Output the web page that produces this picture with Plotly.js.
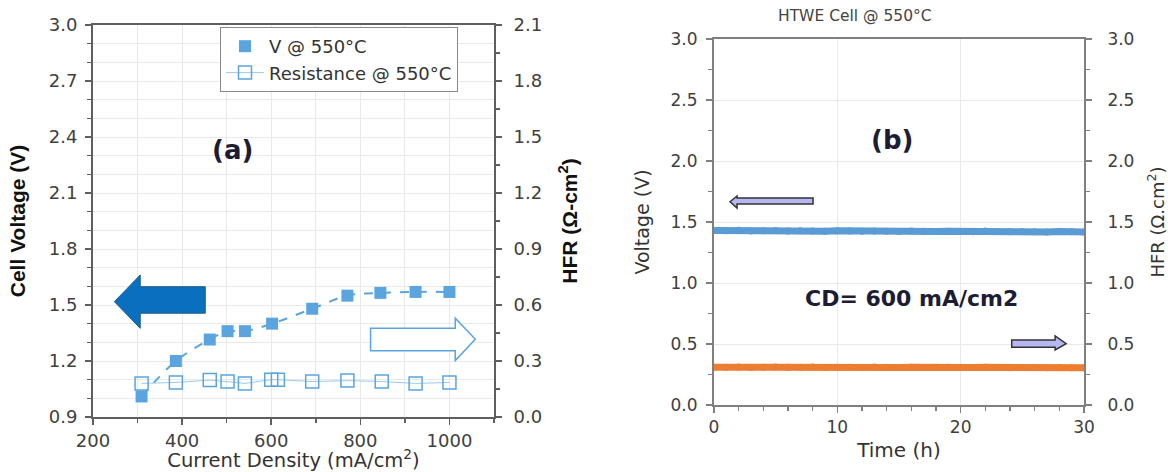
<!DOCTYPE html>
<html>
<head>
<meta charset="utf-8">
<script src="https://cdn.plot.ly/plotly-3.0.1.min.js"></script>
<style>html,body{margin:0;padding:0;background:#fff;}#chart{width:1168px;height:472px;}</style>
</head>
<body>
<div id="chart"></div>
<script>
// ---- Panel (a) data ----
const cdVoltage = [309, 386, 462, 502, 541, 602, 692, 771, 845, 924, 1000];
const cellVoltage = [1.01, 1.20, 1.315, 1.36, 1.36, 1.40, 1.48, 1.55, 1.565, 1.57, 1.57];
const cdHFR = [309, 386, 462, 502, 541, 600, 615, 692, 771, 848, 924, 1000];
const hfrA = [0.18, 0.185, 0.198, 0.19, 0.18, 0.20, 0.20, 0.19, 0.195, 0.19, 0.18, 0.185];

// ---- Panel (b) data ----
const timeH = [0,1,2,3,4,5,6,7,8,9,10,11,12,13,14,15,16,17,18,19,20,21,22,23,24,25,26,27,28,29,30];
const voltageB = [1.430,1.428,1.432,1.427,1.429,1.431,1.426,1.428,1.427,1.425,1.428,1.426,1.424,1.427,1.425,1.423,1.426,1.424,1.422,1.425,1.423,1.421,1.426,1.422,1.420,1.423,1.421,1.419,1.422,1.420,1.419];
const hfrB = [0.310,0.309,0.311,0.308,0.310,0.312,0.309,0.310,0.311,0.308,0.309,0.310,0.308,0.311,0.309,0.308,0.310,0.307,0.309,0.310,0.308,0.307,0.309,0.308,0.306,0.308,0.307,0.305,0.307,0.306,0.305];

const W = 1168, H = 472;
const px = v => v / W;
const py = v => 1 - v / H;

const blueA = '#5AA5E0';
const tickFontA = {family: 'DejaVu Sans', size: 18, color: '#404040'};
const tickFontB = {family: 'DejaVu Sans', size: 17, color: '#404040'};
const boldTitle = {family: 'Liberation Sans', size: 21, color: '#111', weight: 'bold'};
const textDark = '#1c1c34';

const traces = [
  {x: cdVoltage, y: cellVoltage, xaxis: 'x', yaxis: 'y', mode: 'lines', showlegend: false,
   line: {color: blueA, width: 2, dash: 'dash', shape: 'spline', smoothing: 1}, hoverinfo: 'skip'},
  {x: cdVoltage, y: cellVoltage, xaxis: 'x', yaxis: 'y', mode: 'markers', name: 'V @ 550°C',
   marker: {symbol: 'square', size: 12, color: blueA}},
  {x: cdHFR, y: hfrA, xaxis: 'x', yaxis: 'y2', mode: 'lines+markers', name: 'Resistance @ 550°C',
   line: {color: '#9CC9EE', width: 1},
   marker: {symbol: 'square-open', size: 13, color: blueA, line: {width: 1.5, color: blueA}}},
  {x: timeH, y: voltageB, xaxis: 'x2', yaxis: 'y3', mode: 'lines+markers', showlegend: false,
   line: {color: '#5B9BD5', width: 7}, marker: {size: 7, color: '#5B9BD5'}},
  {x: timeH, y: hfrB, xaxis: 'x2', yaxis: 'y4', mode: 'lines+markers', showlegend: false,
   line: {color: '#ED7D31', width: 7}, marker: {size: 7, color: '#ED7D31'}}
];

const gridC = '#e9e9e9';
const lineA = '#5f5f5f';
const lineB = '#808080';

const layout = {
  width: W, height: H,
  margin: {l: 0, r: 0, t: 0, b: 0},
  paper_bgcolor: '#fff', plot_bgcolor: '#fff',
  showlegend: true,
  legend: {x: px(220), y: py(27), xanchor: 'left', yanchor: 'top',
    bgcolor: '#fff', bordercolor: '#8a8a8a', borderwidth: 1, itemwidth: 38,
    font: {family: 'DejaVu Sans', size: 18, color: '#333'}, tracegroupgap: 0},
  xaxis: {domain: [px(93), px(494)], range: [200, 1100], anchor: 'y',
    tick0: 200, dtick: 200, ticks: 'outside', ticklen: 6, tickwidth: 1.5, tickcolor: lineA,
    showline: true, linecolor: lineA, linewidth: 2, mirror: true,
    showgrid: true, gridcolor: gridC, zeroline: false,
    minor: {dtick: 100, tick0: 200, ticks: 'outside', ticklen: 4, tickcolor: lineA, showgrid: true, gridcolor: gridC},
    tickfont: tickFontA,
    title: {text: 'Current Density (mA/cm<sup>2</sup>)', font: {family: 'DejaVu Sans', size: 19.5, color: '#333'}, standoff: 9}},
  yaxis: {domain: [py(417), py(25)], range: [0.9, 3.0], anchor: 'x',
    tick0: 0.9, dtick: 0.3, tickformat: '.1f', ticks: 'outside', ticklen: 6, tickwidth: 1.5, tickcolor: lineA,
    ticklabelstandoff: 4,
    showline: true, linecolor: lineA, linewidth: 2, showgrid: true, gridcolor: gridC, zeroline: false,
    minor: {dtick: 0.1, tick0: 0.9, ticks: 'outside', ticklen: 4, tickcolor: lineA, showgrid: true, gridcolor: gridC},
    tickfont: tickFontA,
    title: {text: 'Cell Voltage (V)', font: boldTitle, standoff: 17}},
  yaxis2: {overlaying: 'y', side: 'right', anchor: 'x', range: [0, 2.1],
    tick0: 0, dtick: 0.3, tickformat: '.1f', ticks: 'outside', ticklen: 6, tickwidth: 1.5, tickcolor: lineA,
    ticklabelstandoff: 8,
    showline: true, linecolor: lineA, linewidth: 2, showgrid: false, zeroline: false,
    minor: {dtick: 0.15, tick0: 0, ticks: 'outside', ticklen: 4, tickcolor: lineA},
    tickfont: tickFontA,
    title: {text: 'HFR (Ω-cm<sup>2</sup>)', font: boldTitle, standoff: 21}},
  xaxis2: {domain: [px(714), px(1084)], range: [0, 30], anchor: 'y3',
    tick0: 0, dtick: 10, ticks: 'outside', ticklen: 6, tickwidth: 1.5, tickcolor: lineB,
    showline: true, linecolor: lineB, linewidth: 2, mirror: true,
    showgrid: true, gridcolor: gridC, zeroline: false,
    minor: {dtick: 2, tick0: 0, ticks: 'outside', ticklen: 4, tickcolor: lineB},
    tickfont: tickFontB,
    title: {text: 'Time (h)', font: {family: 'DejaVu Sans', size: 20, color: '#333'}, standoff: 7}},
  yaxis3: {domain: [py(405), py(39)], range: [0, 3.0], anchor: 'x2',
    tick0: 0, dtick: 0.5, tickformat: '.1f', ticks: 'outside', ticklen: 6, tickwidth: 1.5, tickcolor: lineB,
    ticklabelstandoff: 5,
    showline: true, linecolor: lineB, linewidth: 2, showgrid: true, gridcolor: gridC, zeroline: false,
    minor: {dtick: 0.25, tick0: 0, ticks: 'outside', ticklen: 4, tickcolor: lineB},
    tickfont: tickFontB,
    title: {text: 'Voltage (V)', font: {family: 'DejaVu Sans', size: 19, color: '#333'}, standoff: 16}},
  yaxis4: {overlaying: 'y3', side: 'right', anchor: 'x2', range: [0, 3.0],
    tick0: 0, dtick: 0.5, tickformat: '.1f', ticks: 'outside', ticklen: 6, tickwidth: 1.5, tickcolor: lineB,
    ticklabelstandoff: 12,
    showline: true, linecolor: lineB, linewidth: 2, showgrid: false, zeroline: false,
    minor: {dtick: 0.25, tick0: 0, ticks: 'outside', ticklen: 4, tickcolor: lineB},
    tickfont: tickFontB,
    title: {text: 'HFR (Ω.cm<sup>2</sup>)', font: {family: 'DejaVu Sans', size: 18, color: '#333'}, standoff: 19}},
  shapes: [
    {type: 'path', xref: 'x', yref: 'y',
     path: 'M 248 1.518 L 306 1.661 L 306 1.598 L 452 1.598 L 452 1.456 L 306 1.456 L 306 1.375 Z',
     fillcolor: '#0B6FBF', line: {color: '#1a5f8a', width: 1}},
    {type: 'path', xref: 'x', yref: 'y',
     path: 'M 823 1.375 L 1013 1.375 L 1013 1.429 L 1058 1.316 L 1013 1.202 L 1013 1.255 L 823 1.255 Z',
     fillcolor: '#fff', line: {color: blueA, width: 1.5}},
    {type: 'path', xref: 'x2', yref: 'y3',
     path: 'M 1.3 1.666 L 1.87 1.713 L 1.87 1.697 L 8.03 1.697 L 8.03 1.648 L 1.87 1.648 L 1.87 1.615 Z',
     fillcolor: '#B7B7F2', line: {color: '#333', width: 1.5}},
    {type: 'path', xref: 'x2', yref: 'y3',
     path: 'M 24.14 0.533 L 27.66 0.533 L 27.66 0.566 L 28.55 0.502 L 27.66 0.451 L 27.66 0.473 L 24.14 0.473 Z',
     fillcolor: '#B7B7F2', line: {color: '#333', width: 1.5}}
  ],
  annotations: [
    {xref: 'paper', yref: 'paper', x: px(232), y: py(150), xanchor: 'center', yanchor: 'middle',
     text: '(a)', showarrow: false,
     font: {family: 'DejaVu Sans', size: 26, color: textDark, weight: 'bold'}},
    {xref: 'paper', yref: 'paper', x: px(892), y: py(140), xanchor: 'center', yanchor: 'middle',
     text: '(b)', showarrow: false,
     font: {family: 'DejaVu Sans', size: 26, color: textDark, weight: 'bold'}},
    {xref: 'paper', yref: 'paper', x: px(911), y: py(298), xanchor: 'center', yanchor: 'middle',
     text: 'CD= 600 mA/cm2', showarrow: false,
     font: {family: 'DejaVu Sans', size: 22, color: textDark, weight: 'bold'}},
    {xref: 'paper', yref: 'paper', x: px(855), y: py(16), xanchor: 'center', yanchor: 'middle',
     text: 'HTWE Cell @ 550°C', showarrow: false,
     font: {family: 'DejaVu Sans', size: 15.5, color: '#444'}}
  ]
};

Plotly.newPlot('chart', traces, layout, {displayModeBar: false, staticPlot: true});
</script>
</body>
</html>
